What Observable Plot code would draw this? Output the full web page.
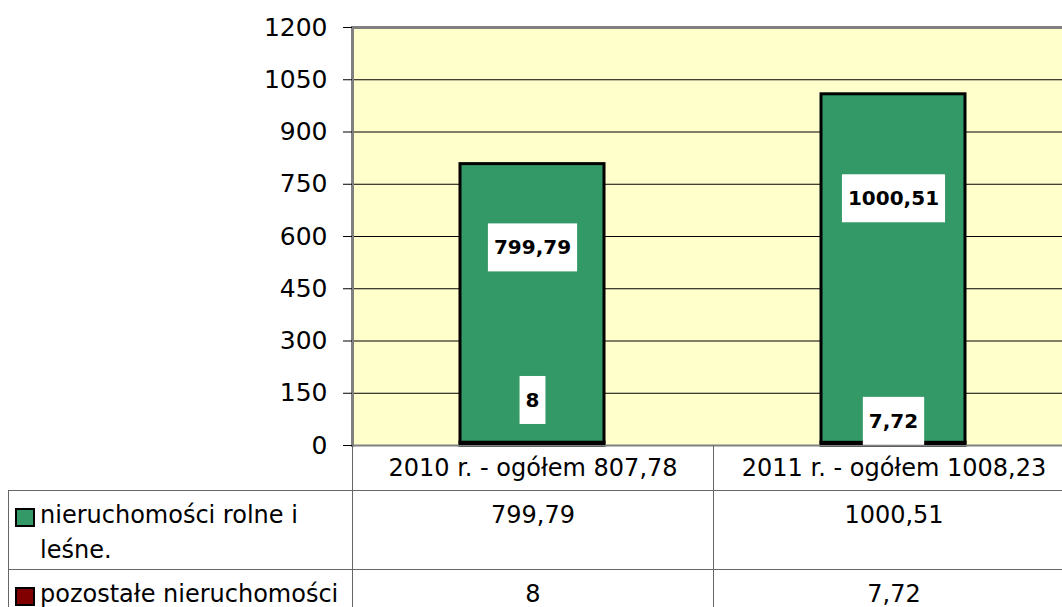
<!DOCTYPE html>
<html>
<head>
<meta charset="utf-8">
<script src="https://cdn.jsdelivr.net/npm/d3@7"></script>
<script src="https://cdn.jsdelivr.net/npm/@observablehq/plot@0.6"></script>
<style>
  html, body { margin: 0; padding: 0; background: #fff; overflow: hidden; }
  #wrap { position: relative; width: 1062px; height: 607px; overflow: hidden; }
  #chart { position: absolute; left: 0; top: 0; }
  table.dt { position: absolute; left: 8px; top: 445px; border-collapse: collapse; table-layout: fixed;
    width: 1066px; font-family: "DejaVu Sans", sans-serif; font-size: 24px; color: #000; }
  table.dt td { border: 1px solid #666; padding: 7px 0 0 0; text-align: center; vertical-align: top; line-height: 35px; }
  table.dt tr.head td { height: 44px; padding: 0; vertical-align: middle; line-height: 28px; border-top: 1px solid #808080; }
  table.dt tr.head td.blank { border-left: none; border-top: none; }
  table.dt tr.r1 td { height: 71px; }
  table.dt td.leg { text-align: left; padding-left: 6px; }
  .legrow { display: flex; align-items: flex-start; }
  .sw { width: 16px; height: 15px; border: 2px solid #000; margin-top: 10px; margin-right: 5px; flex: none; }
</style>
</head>
<body>
<div id="wrap">
  <div id="chart"></div>
</div>
<script>
// ---- data ----
const years = ["2010", "2011"];
const totals = [807.78, 1008.23];
const seriesNames = ["nieruchomości rolne i leśne.", "pozostałe nieruchomości"];
const rolne = [799.79, 1000.51];
const pozostale = [8, 7.72];
const yTicks = [0, 150, 300, 450, 600, 750, 900, 1050, 1200];
const seriesColors = ["#339966", "#800000"];
// value-label anchors (in data units) as placed in the picture
const labelAtRolne = [567, 708];
const labelAtPozostale = [129, 69];

const fmt = v => String(v).replace(".", ",");
const categories = years.map((y, i) => `${y} r. - ogółem ${fmt(totals[i])}`);

const bars = [];
const labels = [];
years.forEach((y, i) => {
  bars.push({cat: categories[i], series: seriesNames[1], value: pozostale[i]});
  bars.push({cat: categories[i], series: seriesNames[0], value: rolne[i]});
  labels.push({cat: categories[i], y: labelAtRolne[i], text: fmt(rolne[i])});
  labels.push({cat: categories[i], y: labelAtPozostale[i], text: fmt(pozostale[i])});
});

const chart = Plot.plot({
  width: 1062, height: 462,
  marginTop: 27, marginBottom: 17, marginLeft: 352, marginRight: 0,
  style: {fontFamily: "DejaVu Sans, sans-serif", background: "transparent"},
  x: {type: "band", domain: categories, range: [352, 1074], paddingInner: 0.6, paddingOuter: 0.3, axis: null},
  y: {domain: [0, 1200], axis: null},
  color: {domain: seriesNames, range: seriesColors},
  marks: [
    Plot.frame({fill: "#ffffcc", stroke: "none"}),
    Plot.ruleY(yTicks, {stroke: "black", strokeWidth: 1}),
    Plot.ruleY([0], {stroke: "#808080", strokeWidth: 2}),
    Plot.barY(bars, {x: "cat", y: "value", fill: "series", stroke: "black", strokeWidth: 3}),
    Plot.ruleY([1200], {stroke: "#808080", strokeWidth: 3}),
    Plot.frame({anchor: "left", stroke: "#808080", strokeWidth: 3}),
    Plot.axisY({ticks: yTicks, tickSize: 9, tickPadding: 16, fontSize: 25, tickFormat: d => String(d), stroke: "black"}),
    Plot.text(labels, {x: "cat", y: "y", text: "text", fontWeight: "bold", fontSize: 20, fill: "black", className: "vlabel"})
  ]
});
document.getElementById("chart").appendChild(chart);

// white boxes behind the value labels
chart.querySelectorAll(".vlabel text").forEach(t => {
  const b = t.getBBox();
  const cy = b.y + b.height / 2;
  const r = document.createElementNS("http://www.w3.org/2000/svg", "rect");
  r.setAttribute("x", b.x - 6);
  r.setAttribute("y", cy - 24);
  r.setAttribute("width", b.width + 12);
  r.setAttribute("height", 48);
  r.setAttribute("fill", "white");
  const tr = t.getAttribute("transform");
  if (tr) r.setAttribute("transform", tr);
  t.parentNode.insertBefore(r, t);
});

// data table below the chart
const table = document.createElement("table");
table.className = "dt";
const cg = document.createElement("colgroup");
[344, 361, 361].forEach(w => { const c = document.createElement("col"); c.style.width = w + "px"; cg.appendChild(c); });
table.appendChild(cg);
const head = document.createElement("tr");
head.className = "head";
const blank = document.createElement("td"); blank.className = "blank"; head.appendChild(blank);
categories.forEach(c => { const td = document.createElement("td"); td.textContent = c; head.appendChild(td); });
table.appendChild(head);
[rolne, pozostale].forEach((vals, s) => {
  const tr = document.createElement("tr");
  tr.className = "r" + (s + 1);
  const leg = document.createElement("td");
  leg.className = "leg";
  const row = document.createElement("div"); row.className = "legrow";
  const sw = document.createElement("span"); sw.className = "sw"; sw.style.background = seriesColors[s];
  const tx = document.createElement("span"); tx.textContent = seriesNames[s];
  row.appendChild(sw); row.appendChild(tx); leg.appendChild(row); tr.appendChild(leg);
  vals.forEach(v => { const td = document.createElement("td"); td.textContent = fmt(v); tr.appendChild(td); });
  table.appendChild(tr);
});
document.getElementById("wrap").appendChild(table);
</script>
</body>
</html>
